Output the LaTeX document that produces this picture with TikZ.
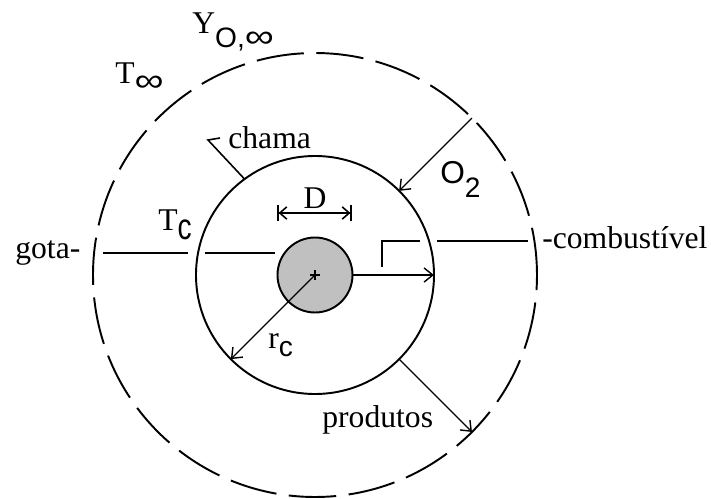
\documentclass[tikz,border=0pt]{standalone}
\usepackage{fontspec}
\setmainfont{Liberation Serif}
\newfontfamily\subfont{Liberation Sans}
\usetikzlibrary{arrows.meta, positioning, calc}
\definecolor{cinzagota}{RGB}{192,192,192}
\newcommand{\baixo}[2][5.5pt]{\raisebox{-#1}{\subfont\fontsize{16}{16}\selectfont #2}}
\newcommand{\infinito}{\scalebox{1.45}[1.15]{∞}}

\begin{document}
\begin{tikzpicture}[
    font=\fontsize{18}{20}\selectfont,
    circulo/.style={line width=1.1pt},
    linha/.style={line width=0.9pt},
    seta/.style={line width=0.8pt, -{Straight Barb[length=5pt,width=8pt]}},
    rotulo/.style={inner sep=0pt, anchor=base west}
]
    \useasboundingbox (-6.30,-4.48) rectangle (7.92,5.50);

    % Circles
    \coordinate (centro) at (0,0);
    \draw[circulo, dash pattern=on 0.95cm off 0.25cm] (centro) circle (4.44);
    \draw[circulo] (centro) circle (2.38);
    \draw[circulo, fill=cinzagota] (centro) circle (0.75);
    \draw[line width=0.8pt] (-0.1,0) -- (0.1,0) (0,-0.1) -- (0,0.1);

    % Labels
    \node[rotulo] (yinf) at (-2.46,4.84) {Y\baixo[8.5pt]{O,\infinito}};
    \node[rotulo] (tinf) at (-4.0,3.84) {T\baixo[5pt]{\infinito}};
    \node[rotulo] (chama) at (-1.74,2.54) {chama};
    \node[rotulo] (tc) at (-3.14,0.90) {T\baixo{\scalebox{1}[1.3]{c}}};
    \node[rotulo, anchor=base] (d) at (0,1.34) {D};
    \node[rotulo] (o2) at (2.50,1.84) {{\subfont\fontsize{18}{18}\selectfont O}\baixo[8.5pt]{2}};
    \node[rotulo] (rc) at (-0.94,-1.46) {r\baixo[5pt]{c}};
    \node[rotulo] (produtos) at (0.14,-3.04) {produtos};
    \node[rotulo] (gota) at (-6.0,0.34) {gota-};
    \node[rotulo] (comb) at (4.54,0.54) {-combustível};

    % gota line
    \coordinate (g1) at (-4.24,0.44);
    \coordinate (g2) at (-2.54,0.44);
    \coordinate (g3) at (-2.20,0.44);
    \coordinate (g4) at (-0.80,0.44);
    \draw[linha] (g1) -- (g2);
    \draw[linha] (g3) -- (g4);

    % combustivel line
    \coordinate (c1) at (2.44,0.68);
    \coordinate (c2) at (4.26,0.68);
    \coordinate (k1) at (1.34,0.16);
    \coordinate (k2) at (2.10,0.68);
    \draw[linha] (c1) -- (c2);
    \draw[linha] (k1) |- (k2);

    % chama leader
    \coordinate (h1) at (-1.90,2.74);
    \coordinate (h2) at (-2.14,2.70);
    \coordinate (h3) at (-1.41,1.92);
    \draw[linha] (h1) -- (h2) -- (h3);

    % D
    \coordinate (dA) at (-0.76,1.24);
    \coordinate (dB) at (0.74,1.24);
    \draw[linha, {Bar[width=9pt]Straight Barb[length=4pt,width=7pt]}-{Straight Barb[length=4pt,width=7pt]Bar[width=9pt]}] (dA) -- (dB);

    % Arrows
    \draw[seta] (0:0.75) -- (0:2.38);
    \draw[seta] (centro) -- (225:2.38);
    \draw[seta] (45:4.44) -- (45:2.38);
    \draw[seta] (-45:2.38) -- (-45:4.44);
\end{tikzpicture}
\end{document}
